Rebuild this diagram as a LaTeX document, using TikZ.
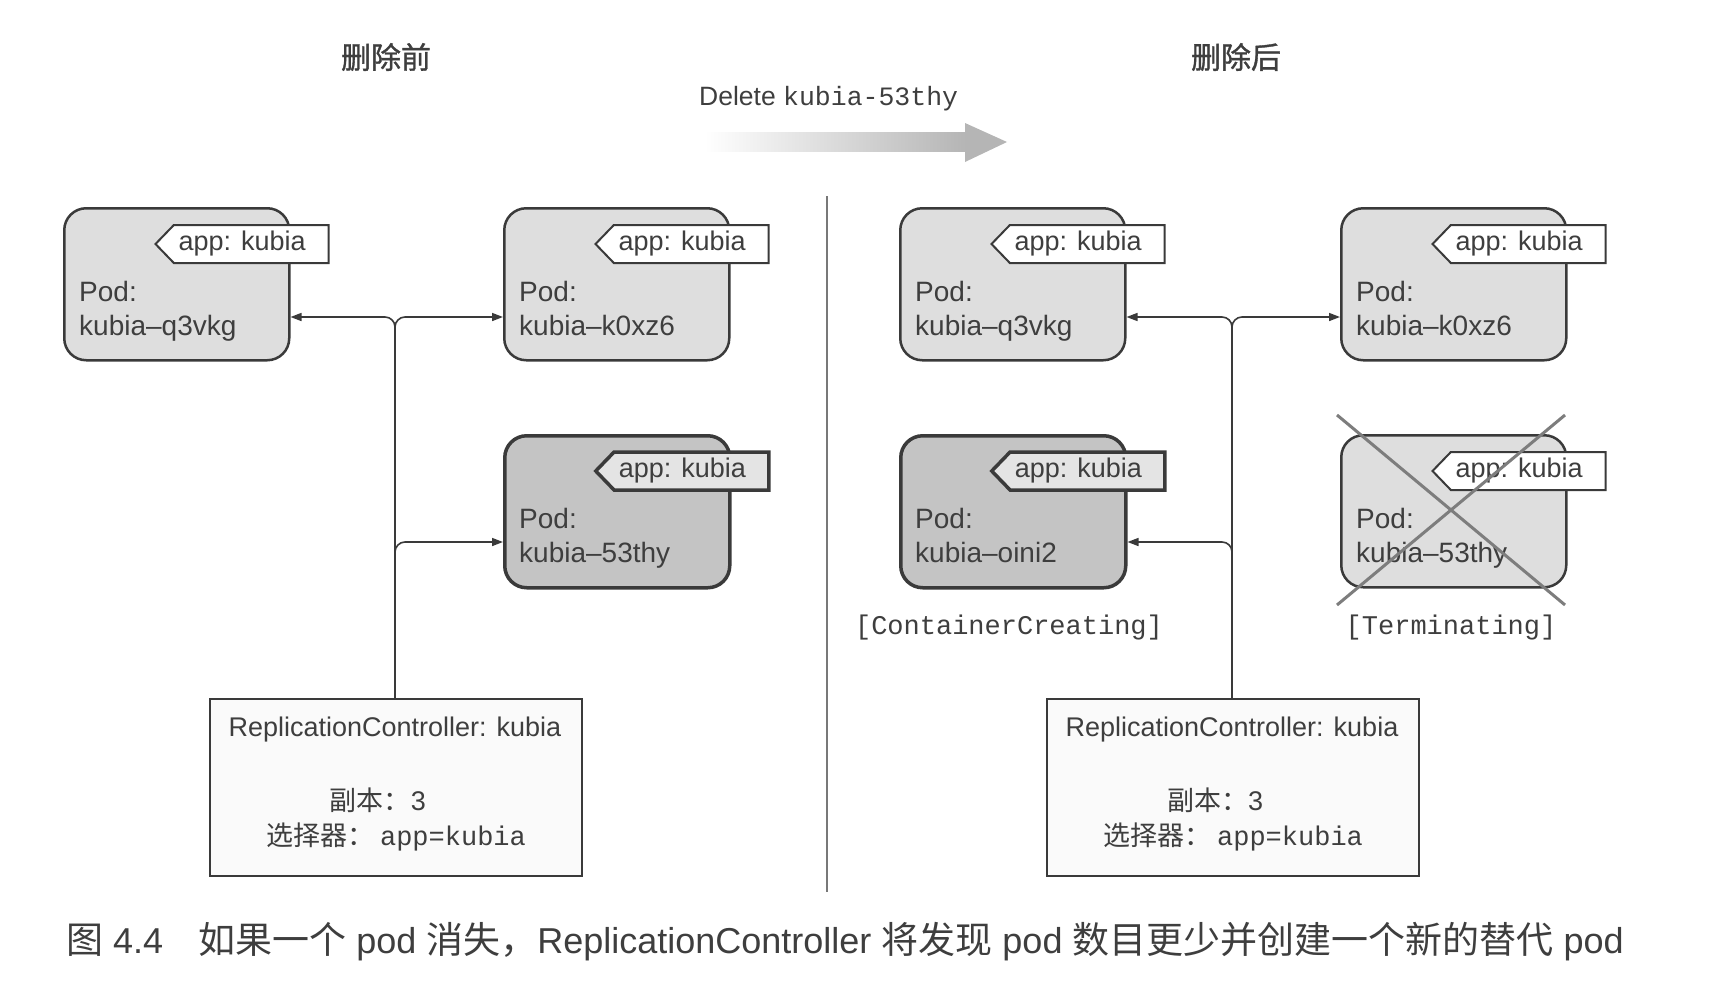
\documentclass[tikz,border=0pt]{standalone}
\usepackage{fontspec}
\setmainfont{Liberation Sans}
\setmonofont{Liberation Mono}
\newfontfamily\cjk{Noto Sans CJK SC}
\newfontfamily\cjkb[FakeBold=1.2]{Noto Sans CJK SC}
\usetikzlibrary{arrows.meta,shapes.symbols,calc}
\definecolor{txt}{RGB}{62,62,62}
\definecolor{linec}{RGB}{58,58,58}
\definecolor{podlight}{RGB}{222,222,222}
\definecolor{poddark}{RGB}{196,196,196}
\definecolor{tagdark}{RGB}{228,228,228}
\definecolor{crossc}{RGB}{125,125,125}
\definecolor{divc}{RGB}{120,120,120}
\newcommand\myfs[1]{\fontsize{#1}{#1}\selectfont}
\newcommand\capcjk[1]{{\cjk\myfs{37}#1}}
\newcommand\mkpod[6]{%
  \node[pod,#5,anchor=north west] (#1) at (#2,#3) {};
  \node[tag,#6,anchor=east] (#1t) at ($(#1.north east)+(39,37)$) {\hspace*{-18pt}app: kubia};
  \node[podtxt,anchor=base west] (#1a) at ($(#1.north west)+(16,94)$) {Pod:};
  \node[podtxt,anchor=base west] (#1b) at ($(#1.north west)+(16,128)$) {#4};
}
\begin{document}
\begin{tikzpicture}[x=1pt,y=-1pt,
  pod/.style={draw=linec,fill=podlight,line width=2.5pt,rounded corners=22pt,
    minimum width=225pt,minimum height=152pt,inner sep=0pt},
  darkpod/.style={fill=poddark,line width=3.5pt},
  tag/.style={signal,signal to=west,signal pointer angle=92,draw=linec,fill=white,
    line width=2pt,minimum width=173pt,minimum height=38pt,inner sep=0pt,
    font=\myfs{27},text=txt},
  darktag/.style={fill=tagdark,line width=3.5pt},
  podtxt/.style={inner sep=0pt,font=\myfs{28},text=txt},
  conn/.style={draw=linec,line width=1.6pt,rounded corners=10pt,
    arrows={-Triangle[length=11pt,width=8pt]}},
  connb/.style={draw=linec,line width=1.6pt,rounded corners=10pt,
    arrows={Triangle[length=11pt,width=8pt]-}},
  rc/.style={draw=linec,fill=gray!4,line width=2pt,minimum width=372pt,
    minimum height=177pt,inner sep=0pt},
  rctxt/.style={inner sep=0pt,font=\myfs{27},text=txt},
  monotxt/.style={inner sep=0pt,font=\ttfamily\myfs{27},text=txt},
  title/.style={inner sep=0pt,font=\cjkb\myfs{30},text=txt}
]
\useasboundingbox (0,0) rectangle (1726,980);

% titles
\node[title] (t1) at (386,57) {删除前};
\node[title] (t2) at (1236,57) {删除后};

% delete label and arrow
\node[inner sep=0pt,anchor=west,text=txt,font=\myfs{26.5}] (del) at (699,99)
  {Delete \texttt{kubia-53thy}};
\shade[left color=white,right color=gray!58,draw=none]
  (705,132) rectangle (966,151);
\fill[gray!58] (965,123) -- (1007,142) -- (965,162) -- cycle;

% divider
\coordinate (dtop) at (827,196);
\coordinate (dbot) at (827,892);
\draw[divc,line width=2pt] (dtop) -- (dbot);

% pods left
\mkpod{p1}{63}{207}{kubia--q3vkg}{}{}
\mkpod{p2}{503}{207}{kubia--k0xz6}{}{}
\mkpod{p3}{503}{434}{kubia--53thy}{darkpod}{darktag}
% pods right
\mkpod{p4}{899}{207}{kubia--q3vkg}{}{}
\mkpod{p5}{1340}{207}{kubia--k0xz6}{}{}
\mkpod{p6}{899}{434}{kubia--oini2}{darkpod}{darktag}
\mkpod{p7}{1340}{434}{kubia--53thy}{}{}

% cross on terminating pod
\coordinate (x1) at (1337,415);
\coordinate (x2) at (1565,605);
\coordinate (x3) at (1565,415);
\coordinate (x4) at (1337,605);
\draw[crossc,line width=3pt] (x1) -- (x2);
\draw[crossc,line width=3pt] (x3) -- (x4);

% status labels
\node[monotxt] (cc) at (1009,628) {[ContainerCreating]};
\node[monotxt] (tm) at (1451,628) {[Terminating]};

% replication controllers
\node[rc,anchor=north west] (rcL) at (209,698) {};
\node[rc,anchor=north west] (rcR) at (1046,698) {};
\node[rctxt] (rcLa) at (395,730) {ReplicationController: kubia};
\node[rctxt] (rcLb) at (378,800) {{\cjk 副本：}3};
\node[rctxt] (rcLc) at (396,837) {{\cjk 选择器：}\hspace{6pt}{\ttfamily\myfs{27}app=kubia}};
\node[rctxt] (rcRa) at (1232,730) {ReplicationController: kubia};
\node[rctxt] (rcRb) at (1215,800) {{\cjk 副本：}3};
\node[rctxt] (rcRc) at (1233,837) {{\cjk 选择器：}\hspace{6pt}{\ttfamily\myfs{27}app=kubia}};

% connectors left
\coordinate (jL) at (395,317);
\coordinate (jL2) at (395,542);
\coordinate (bL) at (395,580);
\draw[connb] (p1.east |- jL) -- (jL) -- (rcL.north -| jL);
\draw[conn] (rcL.north -| jL) -- (jL) -- (p2.west |- jL);
\draw[conn] (bL) -- (jL2) -- (p3.west |- jL2);
% connectors right
\coordinate (jR) at (1232,317);
\coordinate (jR2) at (1232,542);
\coordinate (bR) at (1232,580);
\draw[connb] (p4.east |- jR) -- (jR) -- (rcR.north -| jR);
\draw[conn] (rcR.north -| jR) -- (jR) -- (p5.west |- jR);
\draw[conn] (bR) -- (jR2) -- (p6.east |- jR2);

% caption
\node[inner sep=0pt,anchor=west,text=txt,font=\myfs{36}] (cap) at (66,942)
  {\capcjk{图}\ 4.4\hspace{35pt}\capcjk{如果一个}\ pod\ \capcjk{消失，}ReplicationController\ \capcjk{将发现}\ pod\ \capcjk{数目更少并创建一个新的替代}\ pod};
\end{tikzpicture}
\end{document}
